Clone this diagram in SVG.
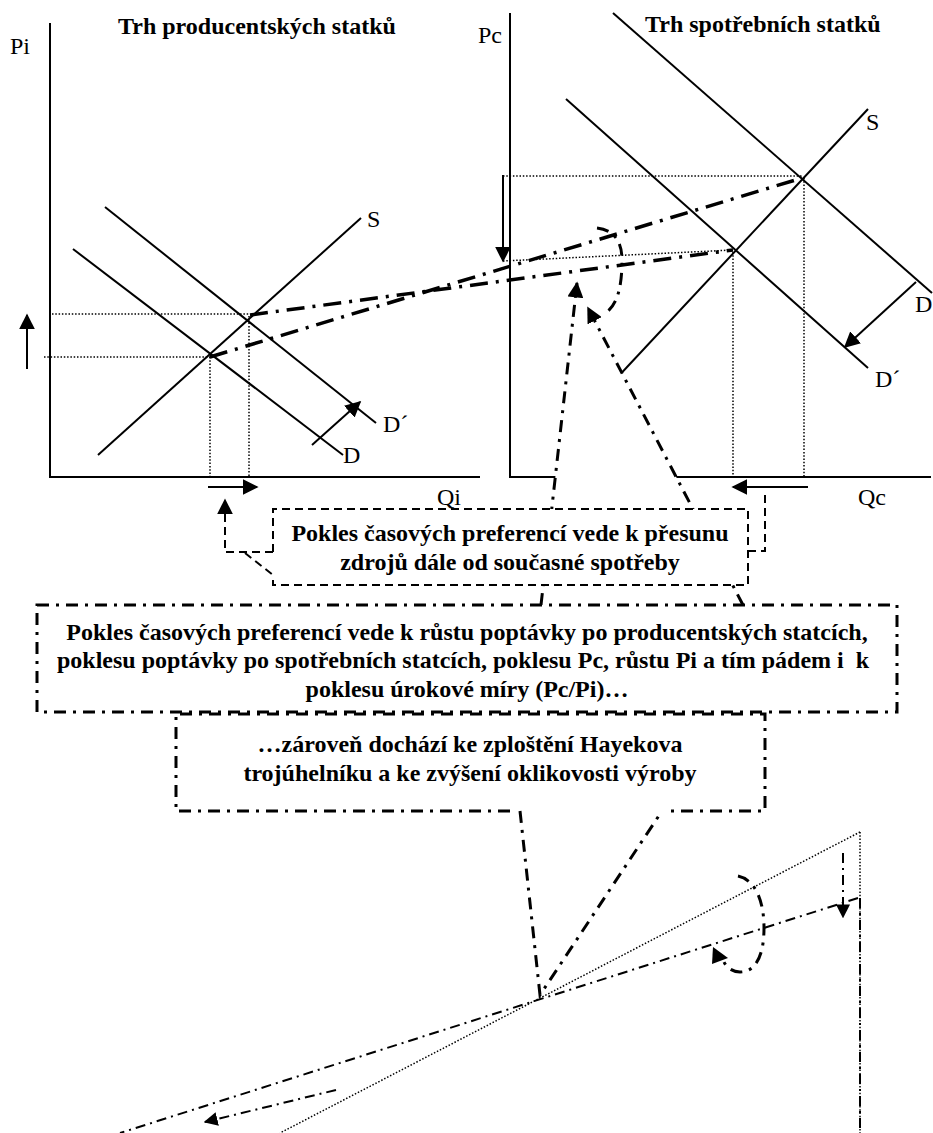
<svg xmlns="http://www.w3.org/2000/svg" width="933" height="1133" viewBox="0 0 933 1133">
  <defs>
    <marker id="ah" viewBox="0 0 10 10" refX="9" refY="5" markerWidth="16" markerHeight="16" markerUnits="userSpaceOnUse" orient="auto">
      <path d="M0,0 L10,5 L0,10 z" fill="#000"/>
    </marker>
    <marker id="ahs" viewBox="0 0 10 10" refX="9" refY="5" markerWidth="14" markerHeight="14" markerUnits="userSpaceOnUse" orient="auto">
      <path d="M0,0 L10,5 L0,10 z" fill="#000"/>
    </marker>
  </defs>
  <style>
    .ax{stroke:#000;stroke-width:2;fill:none}
    .cv{stroke:#000;stroke-width:2;fill:none}
    .arw{stroke:#000;stroke-width:2;fill:none}
    .dot{stroke:#000;stroke-width:1.5;stroke-dasharray:1.5 1.8;fill:none}
    .dd{stroke:#000;stroke-width:3.5;stroke-dasharray:18 8 3 8;fill:none}
    .ptr{stroke:#000;stroke-width:3;stroke-dasharray:12 7 3 7;fill:none}
    .thin{stroke:#000;stroke-width:2;stroke-dasharray:10 5 2 5;fill:none}
    .dash{stroke:#000;stroke-width:2;stroke-dasharray:8 5;fill:none}
    .t{font-family:"Liberation Serif","Times New Roman",serif;font-size:24px;fill:#000}
    .b{font-weight:bold}
    .c{text-anchor:middle}
  </style>

  <!-- Market for producer goods -->
  <g id="producer-market">
    <text class="t b" x="118" y="34">Trh producentských statků</text>
    <text class="t" x="10" y="54">Pi</text>
    <line class="ax" x1="50" y1="23" x2="50" y2="477"/>
    <line class="ax" x1="49" y1="477" x2="480" y2="477"/>
    <text class="t" x="437" y="505">Qi</text>
    <!-- supply and demand -->
    <line class="cv" x1="98" y1="455" x2="361" y2="218"/>
    <line class="cv" x1="105" y1="207" x2="376" y2="423"/>
    <line class="cv" x1="73" y1="249" x2="343" y2="455"/>
    <text class="t" x="367" y="227">S</text>
    <text class="t" x="383" y="432">D´</text>
    <text class="t" x="343" y="463">D</text>
    <!-- equilibrium guides -->
    <line class="dot" x1="52" y1="314" x2="250" y2="314"/>
    <line class="dot" x1="44" y1="357" x2="210" y2="357"/>
    <line class="dot" x1="210" y1="357" x2="210" y2="477"/>
    <line class="dot" x1="249" y1="316" x2="249" y2="477"/>
    <!-- shifts -->
    <line class="arw" x1="312" y1="445" x2="360" y2="402" marker-end="url(#ah)"/>
    <line class="arw" x1="27" y1="369" x2="27" y2="315" marker-end="url(#ah)"/>
    <line class="arw" x1="208" y1="487" x2="257" y2="487" marker-end="url(#ah)"/>
  </g>

  <!-- Market for consumer goods -->
  <g id="consumer-market">
    <text class="t b" x="645" y="32">Trh spotřebních statků</text>
    <text class="t" x="478" y="43">Pc</text>
    <line class="ax" x1="510" y1="13" x2="510" y2="477"/>
    <line class="ax" x1="509" y1="477" x2="931" y2="477"/>
    <text class="t" x="858" y="505">Qc</text>
    <!-- supply and demand -->
    <line class="cv" x1="600" y1="396" x2="868" y2="109"/>
    <line class="cv" x1="613" y1="13" x2="932" y2="293"/>
    <line class="cv" x1="566" y1="99" x2="868" y2="368"/>
    <text class="t" x="866" y="130">S</text>
    <text class="t" x="915" y="312">D</text>
    <text class="t" x="875" y="387">D´</text>
    <!-- equilibrium guides -->
    <line class="dot" x1="503" y1="176" x2="802" y2="176"/>
    <line class="dot" x1="503" y1="261" x2="733" y2="250"/>
    <line class="dot" x1="733" y1="252" x2="733" y2="477"/>
    <line class="dot" x1="804" y1="178" x2="804" y2="477"/>
    <!-- shifts -->
    <line class="arw" x1="916" y1="282" x2="845" y2="347" marker-end="url(#ah)"/>
    <line class="arw" x1="503" y1="175" x2="503" y2="261" marker-end="url(#ah)"/>
    <line class="arw" x1="808" y1="487" x2="733" y2="487" marker-end="url(#ah)"/>
  </g>

  <!-- Pointer wedge of the main explanation box -->
  <g id="main-box-pointer">
    <polygon points="541,605 577,284 588,308 743,605" fill="#fff"/>
    <line class="ptr" x1="541" y1="605" x2="577" y2="283" marker-end="url(#ah)"/>
    <line class="ptr" x1="743" y1="605" x2="588" y2="308" marker-end="url(#ah)"/>
  </g>

  <!-- Links between the two markets -->
  <g id="connectors">
    <line class="dd" x1="210" y1="357" x2="802" y2="178"/>
    <line class="dd" x1="250" y1="315" x2="733" y2="250"/>
    <path class="ptr" d="M597,228 C613,230 622,240 622,260 C622,285 618,306 604,314"/>
  </g>

  <!-- Box: shift of resources -->
  <g id="shift-box">
    <rect x="273" y="509" width="475" height="76" fill="#fff"/>
    <path class="dash" d="M273,552 V509 H748 V585 H273 V575"/>
    <path class="dash" d="M273,552 H225 V500" marker-end="url(#ah)"/>
    <line class="dash" x1="245" y1="553" x2="273" y2="575"/>
    <path class="dash" d="M748,551 H765 V490"/>
    <text class="t b c" x="510" y="541">Pokles časových preferencí vede k přesunu</text>
    <text class="t b c" x="510" y="570">zdrojů dále od současné spotřeby</text>
  </g>

  <!-- Box: main explanation -->
  <g id="main-box">
    <rect x="37" y="605" width="860" height="107" fill="#fff"/>
    <rect class="ptr" x="37" y="605" width="860" height="107" stroke-width="2.5"/>
    <text class="t b c" x="467" y="640">Pokles časových preferencí vede k růstu poptávky po producentských statcích,</text>
    <text class="t b c" x="463" y="668" xml:space="preserve">poklesu poptávky po spotřebních statcích, poklesu Pc, růstu Pi a tím pádem i  k</text>
    <text class="t b c" x="467" y="697">poklesu úrokové míry (Pc/Pi)…</text>
  </g>

  <!-- Box: Hayek triangle note -->
  <g id="hayek-box">
    <polygon points="520,811 540,995 662,811" fill="#fff"/>
    <path class="ptr" d="M510,811 H176 V714 H765 V811 H668"/>
    <path class="ptr" d="M520,811 L540,995 L662,811"/>
    <text class="t b c" x="470" y="752">…zároveň dochází ke zploštění Hayekova</text>
    <text class="t b c" x="470" y="781">trojúhelníku a ke zvýšení oklikovosti výroby</text>
  </g>

  <!-- Hayek triangle -->
  <g id="hayek-triangle">
    <line class="dot" x1="860" y1="832" x2="280" y2="1133"/>
    <line class="dot" x1="860" y1="832" x2="860" y2="1133"/>
    <line class="thin" x1="858" y1="898" x2="120" y2="1133"/>
    <line class="thin" x1="860" y1="898" x2="860" y2="1133"/>
    <line class="thin" x1="843" y1="853" x2="843" y2="917" marker-end="url(#ahs)"/>
    <line class="thin" x1="336" y1="1090" x2="205" y2="1122" marker-end="url(#ahs)"/>
    <path class="ptr" d="M738,876 C756,880 764,902 764,928 C764,955 756,972 740,972 C733,972 727,968 724,962"/>
    <polygon points="713,947 728,958 712,964" fill="#000"/>
  </g>
</svg>
